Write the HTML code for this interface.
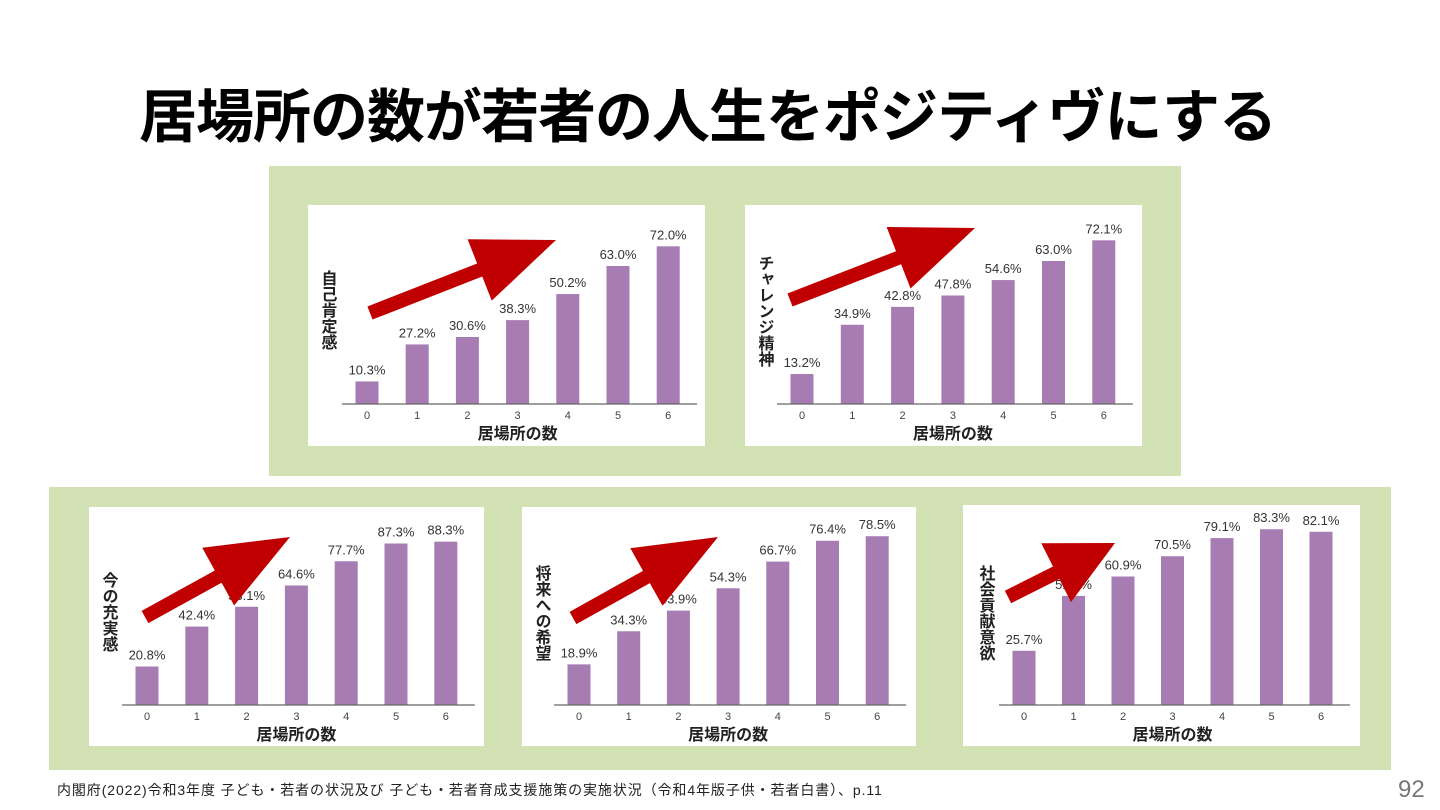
<!DOCTYPE html>
<html><head><meta charset="utf-8">
<style>
body{margin:0;width:1440px;height:810px;background:#fff;overflow:hidden;position:relative;font-family:"Liberation Sans","Noto Sans CJK JP",sans-serif;}
#title{position:absolute;left:0;width:1415px;top:70px;text-align:center;font-size:58px;font-weight:bold;color:#000;letter-spacing:-1px;}
#foot{position:absolute;left:57px;top:780px;font-size:14px;color:#222;letter-spacing:0.9px;}
#pg{position:absolute;left:1398px;top:776px;font-size:24px;color:#777;}
svg{position:absolute;left:0;top:0;}
</style></head><body>
<div id="title">居場所の数が若者の人生をポジティヴにする</div>
<div id="foot">内閣府(2022)令和3年度 子ども・若者の状況及び 子ども・若者育成支援施策の実施状況（令和4年版子供・若者白書）、p.11</div>
<div id="pg">92</div>
<svg id="s" width="1440" height="810"></svg>
<script>
const categories=["0","1","2","3","4","5","6"];
const selfEsteem=[10.3,27.2,30.6,38.3,50.2,63.0,72.0];
const challenge=[13.2,34.9,42.8,47.8,54.6,63.0,72.1];
const fulfillment=[20.8,42.4,53.1,64.6,77.7,87.3,88.3];
const hope=[18.9,34.3,43.9,54.3,66.7,76.4,78.5];
const contribution=[25.7,51.7,60.9,70.5,79.1,83.3,82.1];
const titles=["自己肯定感","チャレンジ精神","今の充実感","将来への希望","社会貢献意欲"];
const series=[selfEsteem,challenge,fulfillment,hope,contribution];

const NS="http://www.w3.org/2000/svg";
const svg=document.getElementById('s');
function mk(tag,attrs,parent,txt){const e=document.createElementNS(NS,tag);for(const k in attrs)e.setAttribute(k,attrs[k]);if(txt!==undefined)e.textContent=txt;(parent||svg).appendChild(e);return e;}

let p1=mk('rect',{x:269,y:166,width:912,height:310,fill:'#d3e2b5'});


let p2=mk('rect',{x:49,y:487,width:1342,height:283,fill:'#d3e2b5'});



const boxes=[
 {x:308,y:205,w:397,h:241,base:404,x0:367,step:50.2,ppp:2.19,ylab:[327,270],arrow:[370,313,556,240]},
 {x:745,y:205,w:397,h:241,base:404,x0:802,step:50.3,ppp:2.27,ylab:[764,255],arrow:[790,300,975,228]},
 {x:89,y:507,w:395,h:239,base:705,x0:147,step:49.8,ppp:1.85,ylab:[108,572],arrow:[145,617,290,537]},
 {x:522,y:507,w:394,h:239,base:705,x0:579,step:49.7,ppp:2.15,ylab:[541,565],arrow:[573,618,718,537]},
 {x:963,y:505,w:397,h:241,base:705,x0:1024,step:49.5,ppp:2.11,ylab:[985,565],arrow:[1008,597,1115,543]}
];
const names=['self-esteem-chart','challenge-chart','fulfillment-chart','hope-chart','contribution-chart'];
boxes.forEach((b,ci)=>{
 const g=mk('g',{});
 
 
 mk('rect',{x:b.x,y:b.y,width:b.w,height:b.h,fill:'#fff'},g);
 const xs=i=>b.x0+i*b.step;
 const ys=v=>b.base-v*b.ppp;
 const data=series[ci];
 data.forEach((v,i)=>{
  const r=mk('rect',{x:xs(i)-11.5,y:ys(v),width:23,height:b.base-ys(v),fill:'#a67cb3'},g);
  
  
  const t=mk('text',{x:xs(i),y:ys(v)-7,'text-anchor':'middle','font-size':13,fill:'#333'},g,v.toFixed(1)+'%');
  
  
  const k=mk('text',{x:xs(i),y:b.base+15,'text-anchor':'middle','font-size':11,fill:'#444'},g,categories[i]);
  
  
 });
 const ax=mk('line',{x1:b.x0-25,x2:b.x0+6*b.step+29,y1:b.base,y2:b.base,stroke:'#666','stroke-width':1.2},g);
 
 
 const xt=mk('text',{x:b.x0+3*b.step,y:b.base+35,'text-anchor':'middle','font-size':16,'font-weight':'bold',fill:'#222'},g,'居場所の数');
 
 
 const yt=mk('text',{x:b.ylab[0],y:b.ylab[1],'font-size':16,'font-weight':'bold',fill:'#222','writing-mode':'tb','glyph-orientation-vertical':0},g,titles[ci]);
 
 
 const [sx,sy,tx,ty]=b.arrow;
 const dx=tx-sx,dy=ty-sy,L=Math.hypot(dx,dy),ux=dx/L,uy=dy/L,nx=-uy,ny=ux;
 const hl=Math.min(82,L*0.55),hw=33,sw=7;
 const bx=tx-ux*hl,by=ty-uy*hl;
 const pts=[[sx+nx*sw,sy+ny*sw],[bx+nx*sw,by+ny*sw],[bx+nx*hw,by+ny*hw],[tx,ty],[bx-nx*hw,by-ny*hw],[bx-nx*sw,by-ny*sw],[sx-nx*sw,sy-ny*sw]];
 const ar=mk('polygon',{points:pts.map(p=>p.join(',')).join(' '),fill:'#c00000'},g);
 
 
});
</script>
</body></html>
